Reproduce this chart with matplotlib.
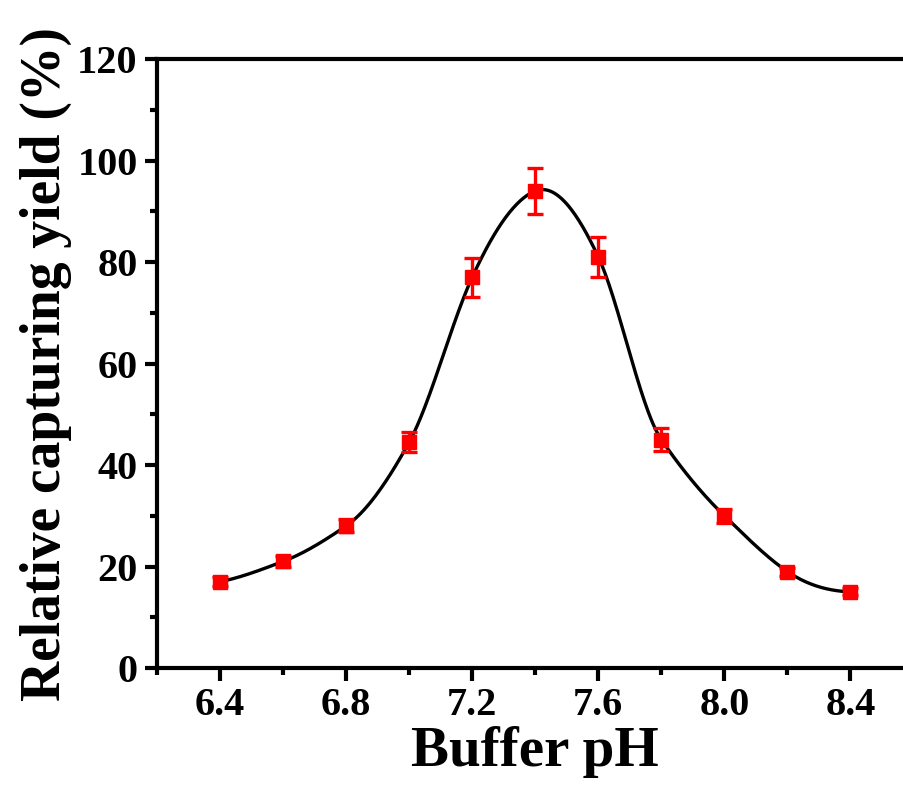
import numpy as np
import matplotlib
matplotlib.use('Agg')
import matplotlib.pyplot as plt
from matplotlib.ticker import MultipleLocator


PH = [6.4, 6.6, 6.8, 7.0, 7.2, 7.4, 7.6, 7.8, 8.0, 8.2, 8.4]
YIELD = [17, 21, 28, 44.5, 77, 94, 81, 45, 30, 19, 15]
YIELD_ERR = [0.9, 1.0, 1.3, 2.0, 3.8, 4.6, 4.0, 2.2, 1.4, 0.8, 0.7]


def akima(x, y, n=500):
    # Akima interpolation through the measured points (fewer wiggles)
    x = np.asarray(x, float)
    y = np.asarray(y, float)
    m = np.diff(y) / np.diff(x)
    mm = np.concatenate([[3 * m[0] - 2 * m[1], 2 * m[0] - m[1]], m,
                         [2 * m[-1] - m[-2], 3 * m[-1] - 2 * m[-2]]])
    dm = np.abs(np.diff(mm))
    w1 = dm[2:]
    w2 = dm[:-2]
    t = np.where(w1 + w2 > 1e-9,
                 (w1 * mm[1:-2] + w2 * mm[2:-1]) / np.maximum(w1 + w2, 1e-9),
                 0.5 * (mm[1:-2] + mm[2:-1]))
    xs = np.linspace(x[0], x[-1], n)
    idx = np.clip(np.searchsorted(x, xs) - 1, 0, len(x) - 2)
    h = x[idx + 1] - x[idx]
    s = (xs - x[idx]) / h
    h00 = 2 * s ** 3 - 3 * s ** 2 + 1
    h10 = s ** 3 - 2 * s ** 2 + s
    h01 = -2 * s ** 3 + 3 * s ** 2
    h11 = s ** 3 - s ** 2
    ys = h00 * y[idx] + h10 * h * t[idx] + h01 * y[idx + 1] + h11 * h * t[idx + 1]
    return xs, ys


def main():
    plt.rcParams['font.family'] = 'Liberation Serif'
    plt.rcParams['font.weight'] = 'bold'

    fig = plt.figure(figsize=(9.04, 7.91), dpi=100)
    ax = fig.add_axes([0.1737, 0.1555, 1.0105 - 0.1737, 0.9254 - 0.1555])

    xs, ys = akima(PH, YIELD)
    ax.plot(xs, ys, color='black', lw=2.4, zorder=2)
    ax.errorbar(PH, YIELD, yerr=YIELD_ERR, fmt='s', color='red', ms=9.5,
                elinewidth=2.4, capsize=6, capthick=2.4, zorder=3)

    ax.set_xlim(6.2, 8.6)
    ax.set_ylim(0, 120)
    ax.xaxis.set_minor_locator(MultipleLocator(0.2))
    ax.yaxis.set_major_locator(MultipleLocator(20))
    ax.yaxis.set_minor_locator(MultipleLocator(10))
    ax.set_xticks([6.4, 6.8, 7.2, 7.6, 8.0, 8.4])
    ax.set_xticklabels(['6.4', '6.8', '7.2', '7.6', '8.0', '8.4'])

    for s in ax.spines.values():
        s.set_linewidth(3)
    ax.tick_params(which='major', direction='out', length=9, width=3,
                   labelsize=29, pad=5, top=False, right=False)
    ax.tick_params(which='minor', direction='out', length=5, width=3,
                   top=False, right=False)

    ax.set_xlabel('Buffer pH', fontsize=41, fontweight='bold', labelpad=1)
    ax.set_ylabel('Relative capturing yield (%)', fontsize=40,
                  fontweight='bold', labelpad=4)

    plt.savefig('out.png', dpi=100)


if __name__ == '__main__':
    main()
